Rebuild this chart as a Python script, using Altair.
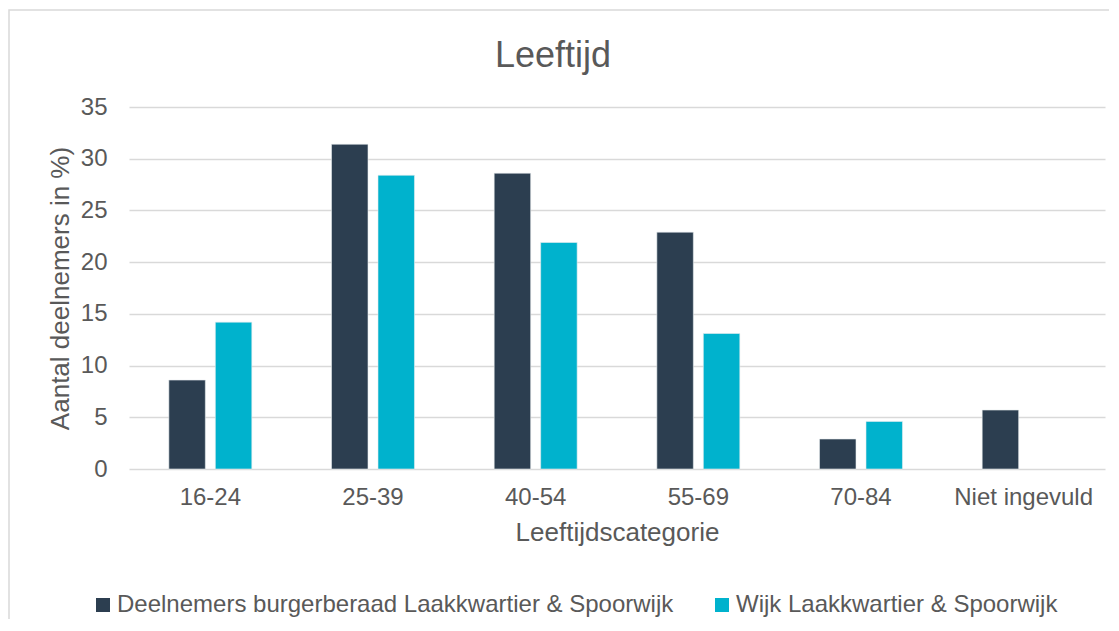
import altair as alt
import pandas as pd

categories = ["16-24", "25-39", "40-54", "55-69", "70-84", "Niet ingevuld"]
series_names = ["Deelnemers burgerberaad Laakkwartier & Spoorwijk", "Wijk Laakkwartier & Spoorwijk"]
deelnemers = [8.6, 31.4, 28.6, 22.9, 2.9, 5.7]
wijk = [14.2, 28.4, 21.9, 13.1, 4.6, None]
colors = ["#2C3E50", "#00B2CD"]
y_ticks = [0, 5, 10, 15, 20, 25, 30, 35]

rows = []
for i, c in enumerate(categories):
    for s, vals in zip(series_names, [deelnemers, wijk]):
        if vals[i] is not None:
            rows.append({"cat": c, "serie": s, "val": vals[i]})
df = pd.DataFrame(rows)

FONT = "Liberation Sans"
GRAY = "#595959"

bars = alt.Chart(df).mark_bar(stroke="#E8ECEF", strokeWidth=0.6).encode(
    x=alt.X("cat:N", sort=categories,
            scale=alt.Scale(paddingInner=0.49, paddingOuter=0.245),
            axis=alt.Axis(title="Leeftijdscategorie", labelAngle=0, ticks=False, domain=False,
                          labelFontSize=24, labelColor=GRAY, labelFont=FONT, labelPadding=16,
                          titleFontSize=26, titleColor=GRAY, titleFont=FONT, titleFontWeight="normal",
                          titlePadding=10, grid=False)),
    xOffset=alt.XOffset("serie:N", sort=series_names,
                        scale=alt.Scale(paddingInner=0.215, paddingOuter=0)),
    y=alt.Y("val:Q", scale=alt.Scale(domain=[0, 35]),
            axis=alt.Axis(title="Aantal deelnemers in %)", values=y_ticks, ticks=False, domain=False,
                          labelFontSize=24, labelColor=GRAY, labelFont=FONT, labelPadding=22,
                          titleFontSize=26, titleColor=GRAY, titleFont=FONT, titleFontWeight="normal",
                          titlePadding=7, gridColor="#D9D9D9", gridWidth=1.3)),
    color=alt.Color("serie:N", sort=series_names,
                    scale=alt.Scale(domain=series_names, range=colors),
                    legend=alt.Legend(title=None, orient="none", direction="horizontal",
                                      legendX=-38, legendY=486, symbolType="square",
                                      symbolSize=196, symbolStrokeWidth=0, labelFontSize=24,
                                      labelColor=GRAY, labelFont=FONT, labelOffset=2,
                                      labelLimit=0, columnPadding=36, padding=0)),
)

frame = alt.Chart(pd.DataFrame({"a": [0]})).mark_rect(
    filled=False, stroke="#D9D9D9", strokeWidth=1.5
).encode(x=alt.value(-120), x2=alt.value(1200), y=alt.value(-97), y2=alt.value(700))

chart = alt.layer(frame, bars).properties(
    width=976, height=362,
    title=alt.TitleParams(text="Leeftijd", fontSize=36, color=GRAY, font=FONT,
                          fontWeight="normal", anchor="middle", dx=-64, offset=-66),
    autosize=alt.AutoSizeParams(type="none"),
    padding={"left": 121, "top": 99, "right": 4, "bottom": 150},
).configure_view(stroke=None)

chart.save("out.html", embed_options={"renderer": "svg", "actions": False})
